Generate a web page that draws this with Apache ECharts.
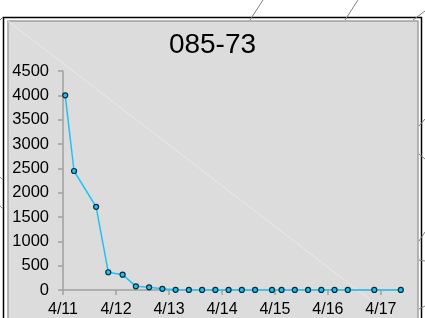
<!DOCTYPE html>
<html>
<head>
<meta charset="utf-8">
<script src="https://cdn.jsdelivr.net/npm/echarts@6/dist/echarts.min.js"></script>
<style>
html,body{margin:0;padding:0;background:#fff;}
#chart{width:425px;height:318px;}
</style>
</head>
<body>
<div id="chart"></div>
<script>
var titleText = '085-73';
var times = [
  '2008-04-11 01:00','2008-04-11 05:00','2008-04-11 15:00','2008-04-11 20:30',
  '2008-04-12 03:00','2008-04-12 09:00','2008-04-12 15:00','2008-04-12 21:00',
  '2008-04-13 03:00','2008-04-13 09:00','2008-04-13 15:00','2008-04-13 21:00',
  '2008-04-14 03:00','2008-04-14 09:00','2008-04-14 15:00','2008-04-14 22:40',
  '2008-04-15 03:00','2008-04-15 09:00','2008-04-15 15:00','2008-04-15 21:00',
  '2008-04-16 03:00','2008-04-16 09:00','2008-04-16 21:00','2008-04-17 09:00'
];
var values = [4000,2445,1710,365,315,75,55,25,3,2,2,2,2,2,2,2,2,2,2,2,2,2,2,2];
var xMin = '2008-04-11 00:00';
var xMax = '2008-04-17 10:00';
var yTicks = [0,500,1000,1500,2000,2500,3000,3500,4000,4500];

function parseLocal(s){
  var p = s.split(/[- :]/).map(Number);
  return new Date(p[0], p[1]-1, p[2], p[3]||0, p[4]||0).getTime();
}
var seriesData = times.map(function(t,i){ return [parseLocal(t), values[i]]; });

var chart = echarts.init(document.getElementById('chart'), null, {renderer:'canvas'});
var FONT = 'Liberation Sans, Arial, sans-serif';
var DAY = 86400000;
chart.setOption({
  backgroundColor: '#ffffff',
  animation: false,
  title: {
    text: titleText, left: 'center', top: 26,
    textStyle: {fontFamily: FONT, fontSize: 28, fontWeight: 'normal', color: '#000'}
  },
  graphic: [
    {type:'rect', z:-100, shape:{x:3.5,y:17.5,width:418,height:330}, style:{fill:'#ffffff', stroke:'#000', lineWidth:1.5}},
    {type:'rect', z:-99, shape:{x:8,y:21,width:410,height:330}, style:{fill:'#dcdcdc', stroke:'#a0a0a0', lineWidth:1.5}},
    {type:'line', z:-98, shape:{x1:8,y1:21,x2:394,y2:318}, style:{stroke:'#e9e9e9', lineWidth:1}},
    {type:'line', z:-98, shape:{x1:250,y1:20,x2:263,y2:0}, style:{stroke:'#808080', lineWidth:1}},
    {type:'line', z:-98, shape:{x1:345,y1:20,x2:358,y2:0}, style:{stroke:'#808080', lineWidth:1}},
    {type:'line', z:-98, shape:{x1:413,y1:20,x2:425,y2:11}, style:{stroke:'#808080', lineWidth:1}},
    {type:'line', z:-98, shape:{x1:0,y1:20,x2:3,y2:17}, style:{stroke:'#808080', lineWidth:1}},
    {type:'line', z:-98, shape:{x1:419,y1:126,x2:425,y2:119}, style:{stroke:'#808080', lineWidth:1}},
    {type:'line', z:-98, shape:{x1:419,y1:154,x2:425,y2:159}, style:{stroke:'#808080', lineWidth:1}},
    {type:'line', z:-98, shape:{x1:419,y1:241,x2:425,y2:232}, style:{stroke:'#808080', lineWidth:1}},
    {type:'line', z:-98, shape:{x1:419,y1:260,x2:425,y2:261}, style:{stroke:'#808080', lineWidth:1}},
    {type:'line', z:-98, shape:{x1:419,y1:309,x2:425,y2:306}, style:{stroke:'#808080', lineWidth:1}},
    {type:'line', z:-98, shape:{x1:0,y1:177,x2:3,y2:180}, style:{stroke:'#a0a0a0', lineWidth:1}},
    {type:'line', z:-98, shape:{x1:0,y1:206,x2:3,y2:209}, style:{stroke:'#a0a0a0', lineWidth:1}}
  ],
  grid: {left: 63, right: 22, top: 71, bottom: 28, containLabel: false},
  xAxis: {
    type: 'time',
    min: parseLocal(xMin), max: parseLocal(xMax),
    minInterval: DAY, maxInterval: DAY, interval: DAY,
    axisLine: {show: true, onZero: false, lineStyle: {color: '#a0a0a0', width: 1.5}},
    axisTick: {show: true, length: 5, lineStyle: {color: '#a0a0a0', width: 1.5}},
    splitLine: {show: false},
    axisLabel: {
      margin: 12, color: '#000', fontFamily: FONT, fontSize: 16,
      showMinLabel: true, showMaxLabel: false, hideOverlap: false,
      formatter: function(v){ var d = new Date(v); return (d.getMonth()+1) + '/' + d.getDate(); }
    }
  },
  yAxis: {
    type: 'value', min: yTicks[0], max: yTicks[yTicks.length-1], interval: 500,
    axisLine: {show: true, lineStyle: {color: '#a0a0a0', width: 1.5}},
    axisTick: {show: true, length: 5, lineStyle: {color: '#a0a0a0', width: 1.5}},
    splitLine: {show: false},
    axisLabel: {margin: 14, color: '#000', fontFamily: FONT, fontSize: 16.5,
      formatter: function(v){ return String(v); }}
  },
  series: [{
    type: 'line',
    data: seriesData,
    symbol: 'circle', symbolSize: 5, showAllSymbol: true,
    lineStyle: {color: '#1ec3f5', width: 1.5},
    itemStyle: {color: '#1ec3f5', borderColor: '#0a2a3a', borderWidth: 1.2},
    z: 5
  }]
});
</script>
</body>
</html>
